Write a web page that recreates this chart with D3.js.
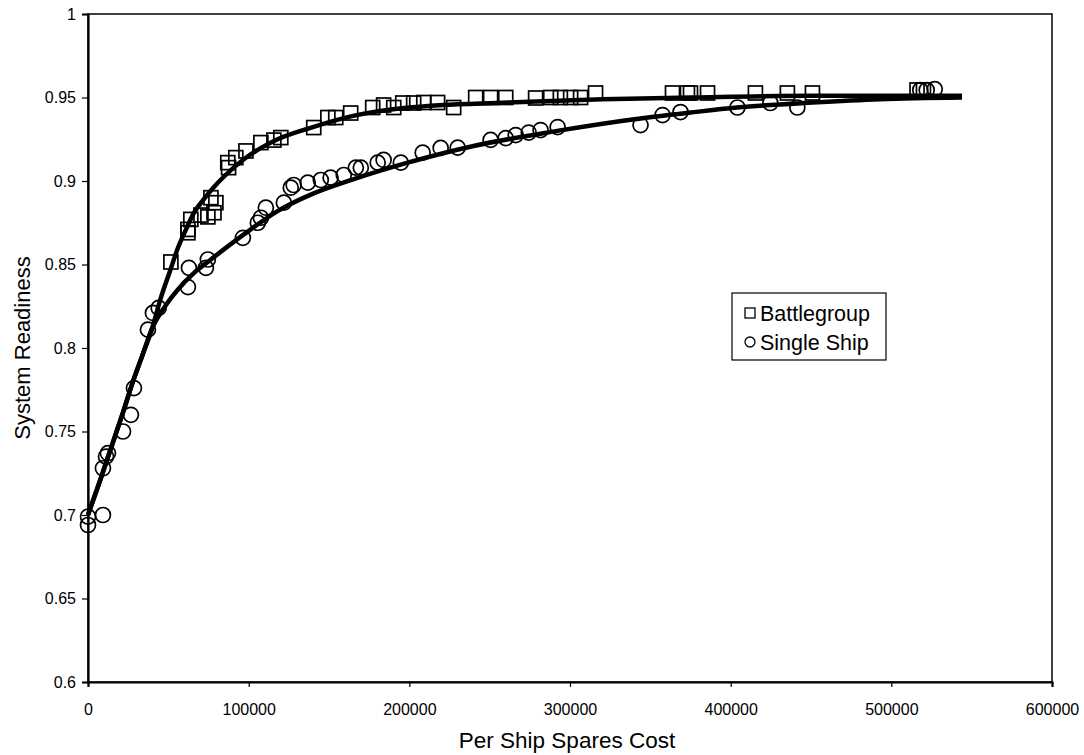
<!DOCTYPE html>
<html><head><meta charset="utf-8">
<script src="https://cdn.jsdelivr.net/npm/d3@7"></script>
<style>body{margin:0;background:#fff}svg{display:block}text{font-family:"Liberation Sans",Arial,sans-serif;fill:#000}</style>
</head><body><svg id="c" width="1084" height="755"></svg>
<script>
// Battlegroup observations (squares)
const bgX = [51600, 62200, 62200, 64000, 70300, 74600, 78400, 79600, 76500, 87000, 87500, 92000, 98300, 107600, 115700, 120000, 140500, 149300, 154200, 163500, 177200, 184000, 190300, 195900, 202700, 209000, 217600, 227600, 241300, 250600, 260000, 278600, 288000, 294000, 300400, 306600, 315900, 363800, 373100, 375000, 385600, 415400, 435300, 450900, 516000, 520000];
const bgY = [0.8515, 0.869, 0.871, 0.877, 0.8796, 0.8785, 0.881, 0.887, 0.890, 0.911, 0.908, 0.914, 0.918, 0.923, 0.9245, 0.926, 0.932, 0.938, 0.938, 0.9407, 0.944, 0.9455, 0.944, 0.9467, 0.9467, 0.947, 0.947, 0.944, 0.950, 0.950, 0.950, 0.9497, 0.950, 0.950, 0.950, 0.950, 0.9527, 0.9527, 0.9527, 0.9527, 0.9527, 0.9527, 0.9527, 0.9527, 0.9545, 0.9545];
// Single Ship observations (circles)
const ssX = [0, 0, 9300, 9300, 11200, 12400, 21800, 26700, 28600, 37300, 40400, 44000, 62200, 62800, 73400, 74600, 96400, 105700, 107600, 110700, 121900, 126200, 128000, 136800, 144900, 151000, 159200, 166700, 169800, 180300, 184000, 194700, 208300, 219500, 230100, 250600, 260000, 266200, 274300, 281700, 292300, 343900, 357600, 368800, 404200, 424700, 441500, 518000, 522000, 527000];
const ssY = [0.699, 0.694, 0.700, 0.728, 0.735, 0.737, 0.750, 0.760, 0.776, 0.811, 0.821, 0.824, 0.8365, 0.848, 0.848, 0.853, 0.866, 0.875, 0.878, 0.884, 0.887, 0.896, 0.8976, 0.899, 0.9006, 0.902, 0.9036, 0.908, 0.908, 0.911, 0.9126, 0.911, 0.917, 0.9198, 0.920, 0.9246, 0.9257, 0.9275, 0.929, 0.9305, 0.9323, 0.9335, 0.9395, 0.9413, 0.944, 0.9467, 0.944, 0.9545, 0.9545, 0.955];
// Fitted trend curves
const bgFitX = [0, 8000, 15000, 22000, 28000, 34000, 40000, 45000, 51000, 56000, 61000, 66000, 72000, 78000, 85000, 97000, 108000, 118000, 139000, 165000, 200000, 261000, 320000, 375000, 450000, 544000];
const bgFitY = [0.700, 0.722, 0.742, 0.762, 0.780, 0.796, 0.812, 0.829, 0.846, 0.860, 0.871, 0.881, 0.889, 0.896, 0.903, 0.913, 0.920, 0.925, 0.932, 0.939, 0.944, 0.947, 0.949, 0.950, 0.951, 0.951];
const ssFitX = [0, 8000, 15000, 22000, 28000, 34000, 40000, 48000, 56000, 66000, 76500, 97000, 118000, 139000, 165000, 199000, 240000, 292000, 340000, 375000, 404000, 451000, 493000, 544000];
const ssFitY = [0.700, 0.722, 0.742, 0.762, 0.780, 0.796, 0.812, 0.825, 0.835, 0.845, 0.853, 0.868, 0.882, 0.892, 0.901, 0.911, 0.921, 0.930, 0.937, 0.941, 0.944, 0.947, 0.949, 0.950];
const xTicks = [0, 100000, 200000, 300000, 400000, 500000, 600000];
const yTicks = [0.6, 0.65, 0.7, 0.75, 0.8, 0.85, 0.9, 0.95, 1];
const seriesNames = ["Battlegroup", "Single Ship"];

const svg = d3.select("#c");
const L = 88, R = 1052, T = 14, B = 682;
const x = d3.scaleLinear().domain([0, 600000]).range([L, R]);
const y = d3.scaleLinear().domain([0.6, 1]).range([B, T]);

// frame
svg.append("rect").attr("x", L).attr("y", T).attr("width", R - L).attr("height", B - T)
  .attr("fill", "none").attr("stroke", "#000").attr("stroke-width", 1.5);

const xa = svg.append("g").attr("transform", `translate(0,${B})`)
  .call(d3.axisBottom(x).tickValues(xTicks).tickFormat(d3.format("d")).tickSize(5).tickPadding(17));
const ya = svg.append("g").attr("transform", `translate(${L},0)`)
  .call(d3.axisLeft(y).tickValues(yTicks).tickFormat(d => String(d)).tickSize(6).tickPadding(6));
[xa, ya].forEach(a => {
  a.select(".domain").attr("stroke", "#000").attr("stroke-width", 2.2);
  a.selectAll(".tick line").attr("stroke", "#000").attr("stroke-width", 1.2);
  a.selectAll("text").style("font-size", "16px").attr("fill", "#000");
});

const line = d3.line().x(d => x(d[0])).y(d => y(d[1])).curve(d3.curveMonotoneX);
const g = svg.append("g");

// markers
g.selectAll("rect.bg").data(d3.zip(bgX, bgY)).join("rect").attr("class", "bg")
  .attr("x", d => x(d[0]) - 7).attr("y", d => y(d[1]) - 7).attr("width", 14).attr("height", 14)
  .attr("fill", "none").attr("stroke", "#000").attr("stroke-width", 1.7);
g.selectAll("circle.ss").data(d3.zip(ssX, ssY)).join("circle").attr("class", "ss")
  .attr("cx", d => x(d[0])).attr("cy", d => y(d[1])).attr("r", 7.5)
  .attr("fill", "none").attr("stroke", "#000").attr("stroke-width", 1.7);

// fit lines
g.append("path").datum(d3.zip(bgFitX, bgFitY)).attr("d", line)
  .attr("fill", "none").attr("stroke", "#000").attr("stroke-width", 4.5);
g.append("path").datum(d3.zip(ssFitX, ssFitY)).attr("d", line)
  .attr("fill", "none").attr("stroke", "#000").attr("stroke-width", 4.5);

// axis titles
svg.append("text").attr("x", (L + R) / 2 - 3).attr("y", 748).attr("text-anchor", "middle")
  .style("font-size", "22.5px").text("Per Ship Spares Cost");
svg.append("text").attr("transform", `translate(22,${(T + B) / 2}) rotate(-90)`).attr("text-anchor", "middle")
  .attr("dy", "0.35em").style("font-size", "22px").text("System Readiness");

// legend
const lg = svg.append("g");
lg.append("rect").attr("x", 732).attr("y", 293).attr("width", 154).attr("height", 67)
  .attr("fill", "#fff").attr("stroke", "#000").attr("stroke-width", 1.2);
lg.append("rect").attr("x", 745).attr("y", 308).attr("width", 10).attr("height", 10)
  .attr("fill", "none").attr("stroke", "#000").attr("stroke-width", 1.3);
lg.append("circle").attr("cx", 750).attr("cy", 342).attr("r", 5)
  .attr("fill", "none").attr("stroke", "#000").attr("stroke-width", 1.3);
lg.selectAll("text.lt").data(seriesNames).join("text").attr("class", "lt")
  .attr("x", 760).attr("y", (d, i) => 313 + i * 29).attr("dy", "0.35em")
  .style("font-size", "21.5px").text(d => d);
</script></body></html>
